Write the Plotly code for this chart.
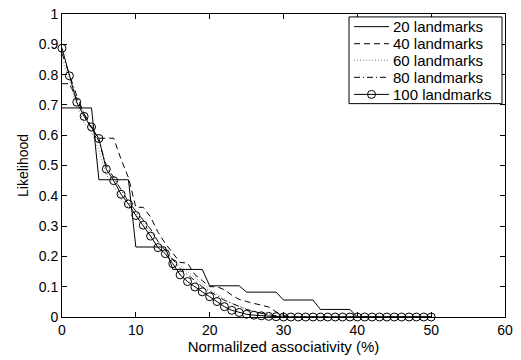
import plotly.graph_objects as go

# Normalized associativity (%) sample points
assoc = list(range(0, 51))

# Likelihood for each landmark count
lm20 = [0.690] * 5 + [0.453] * 5 + [0.231] * 5 + [0.157] * 5 + [0.103] * 5 + \
       [0.082] * 5 + [0.056] * 5 + [0.025] * 5 + [0.0] * 11
lm40 = [0.770, 0.770, 0.720, 0.670, 0.620, 0.590, 0.590, 0.590, 0.520, 0.460,
        0.362, 0.362, 0.330, 0.280, 0.242, 0.210, 0.180, 0.178, 0.140, 0.120,
        0.100, 0.100, 0.090, 0.072, 0.058, 0.051, 0.045, 0.040, 0.033, 0.017,
        0.005] + [0.0] * 20
lm60 = [0.850, 0.780, 0.700, 0.640, 0.610, 0.550, 0.470, 0.430, 0.390, 0.360,
        0.340, 0.310, 0.280, 0.250, 0.220, 0.190, 0.170, 0.150, 0.130, 0.110,
        0.090, 0.075, 0.060, 0.045, 0.035, 0.025, 0.018, 0.012, 0.008, 0.004,
        0.002] + [0.0] * 20
lm80 = [0.870, 0.800, 0.730, 0.670, 0.630, 0.580, 0.500, 0.460, 0.420, 0.380,
        0.350, 0.320, 0.290, 0.250, 0.220, 0.190, 0.160, 0.140, 0.120, 0.100,
        0.085, 0.070, 0.055, 0.045, 0.035, 0.025, 0.018, 0.012, 0.007, 0.004,
        0.002] + [0.0] * 20
lm100 = [0.887, 0.796, 0.709, 0.662, 0.627, 0.589, 0.488, 0.450, 0.405, 0.373,
         0.335, 0.303, 0.267, 0.229, 0.209, 0.176, 0.139, 0.117, 0.099, 0.083,
         0.067, 0.051, 0.034, 0.022, 0.015, 0.009, 0.006, 0.004, 0.002, 0.001] + [0.0] * 21

names = ["20 landmarks", "40 landmarks", "60 landmarks", "80 landmarks", "100 landmarks"]
x_ticks = [0, 10, 20, 30, 40, 50, 60]
y_ticks = [0, 0.1, 0.2, 0.3, 0.4, 0.5, 0.6, 0.7, 0.8, 0.9, 1]

FONT = "Liberation Sans, Arial, sans-serif"

W, H = 521, 360
ML, MR, MT, MB = 62, 16, 6, 43
PW, PH = W - ML - MR, H - MT - MB

styles = [
    dict(color="black", width=1),
    dict(color="black", width=1, dash="6px,4px"),
    dict(color="#777777", width=1, dash="1px,2px"),
    dict(color="black", width=1, dash="6px,3px,1px,3px"),
    dict(color="black", width=1),
]
series = [lm20, lm40, lm60, lm80, lm100]

fig = go.Figure()
for i, (name, ys, st) in enumerate(zip(names, series, styles)):
    if i == 4:
        fig.add_trace(go.Scatter(
            x=assoc, y=ys, name=name, mode="lines+markers", line=st,
            marker=dict(symbol="circle-open", size=8, color="black",
                        line=dict(width=1, color="black")),
            cliponaxis=False, showlegend=False))
    else:
        fig.add_trace(go.Scatter(x=assoc, y=ys, name=name, mode="lines",
                                 line=st, showlegend=False))


# Legend box drawn in paper space (pixel offsets from the plot origin)
def px(xp):
    return (xp - ML) / PW


def py(yp):
    return (H - MB - yp) / PH


shapes = [dict(type="rect", xref="paper", yref="paper",
               x0=px(349), x1=px(502), y0=py(9), y1=py(98),
               line=dict(color="black", width=1), fillcolor="white", layer="above")]
annotations = []
row_y = [19, 36.5, 53.5, 71, 88.5]
for name, st, ry in zip(names, styles, row_y):
    shapes.append(dict(type="line", xref="paper", yref="paper",
                       x0=px(354), x1=px(389), y0=py(ry), y1=py(ry),
                       line=st, layer="above"))
    annotations.append(dict(text=name, xref="paper", yref="paper",
                            x=px(391), y=py(ry), xanchor="left", yanchor="middle",
                            showarrow=False,
                            font=dict(family=FONT, size=15, color="black")))
shapes.append(dict(type="circle", xref="paper", yref="paper",
                   xsizemode="pixel", ysizemode="pixel",
                   xanchor=px(371.5), yanchor=py(row_y[4]),
                   x0=-4, x1=4, y0=-4, y1=4,
                   line=dict(color="black", width=1), layer="above"))

axis_common = dict(showline=True, linecolor="black", linewidth=1, mirror="ticks",
                   ticks="inside", ticklen=5, tickcolor="black", tickwidth=1,
                   showgrid=False, zeroline=False, ticklabeloverflow="allow",
                   tickfont=dict(family=FONT, size=14, color="black"))

fig.update_xaxes(range=[0, 60], tickvals=x_ticks,
                 title=dict(text="Normalilzed associativity (%)", standoff=4,
                            font=dict(family=FONT, size=15, color="black")),
                 **axis_common)
fig.update_yaxes(range=[0, 1], tickvals=y_ticks,
                 title=dict(text="Likelihood", standoff=6,
                            font=dict(family=FONT, size=14, color="black")),
                 **axis_common)

fig.update_layout(
    width=W, height=H,
    margin=dict(l=ML, r=MR, t=MT, b=MB),
    paper_bgcolor="white", plot_bgcolor="white",
    font=dict(family=FONT, size=14, color="black"),
    showlegend=False,
    shapes=shapes,
    annotations=annotations,
)

fig.write_html("out.html")
